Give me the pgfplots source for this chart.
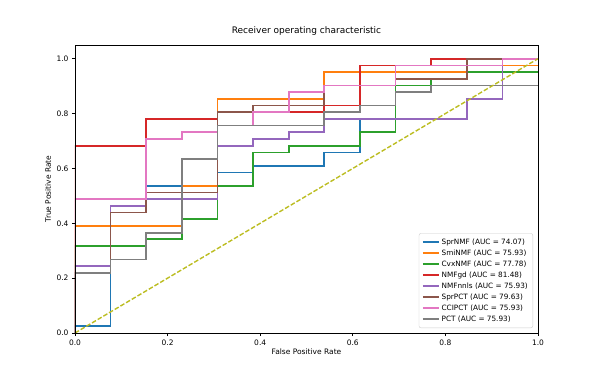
\documentclass[border=0pt]{standalone}
\usepackage{fontspec}
\setmainfont{DejaVu Sans}
\usepackage{pgfplots}
\pgfplotsset{compat=1.18}
\usepackage{pgfplotstable}

\definecolor{tabblue}{HTML}{1F77B4}
\definecolor{taborange}{HTML}{FF7F0E}
\definecolor{tabgreen}{HTML}{2CA02C}
\definecolor{tabred}{HTML}{D62728}
\definecolor{tabpurple}{HTML}{9467BD}
\definecolor{tabbrown}{HTML}{8C564B}
\definecolor{tabpink}{HTML}{E377C2}
\definecolor{tabgray}{HTML}{7F7F7F}
\definecolor{tabolive}{HTML}{BCBD22}

% step curves: i = false positives (of 13), k = true positives (of 41)
\pgfplotstableread{
i k
0 0
0 1
1 1
1 19
2 19
2 22
4 22
4 24
5 24
5 25
7 25
7 27
8 27
8 32
9 32
9 37
12 37
12 39
13 39
}\sprnmf
\pgfplotstableread{
i k
0 0
0 16
3 16
3 22
4 22
4 35
7 35
7 39
12 39
12 40
13 40
}\sminmf
\pgfplotstableread{
i k
0 0
0 13
2 13
2 14
3 14
3 17
4 17
4 22
5 22
5 27
6 27
6 28
8 28
8 30
9 30
9 37
10 37
10 38
11 38
11 39
13 39
}\cvxnmf
\pgfplotstableread{
i k
0 0
0 28
2 28
2 32
4 32
4 33
7 33
7 34
8 34
8 40
10 40
10 41
13 41
}\nmfgd
\pgfplotstableread{
i k
0 0
0 10
1 10
1 19
2 19
2 20
4 20
4 28
5 28
5 29
6 29
6 30
7 30
7 32
11 32
11 35
12 35
12 41
13 41
}\nmfnnls
\pgfplotstableread{
i k
0 0
0 9
1 9
1 18
2 18
2 21
4 21
4 33
5 33
5 34
7 34
7 37
9 37
9 38
11 38
11 41
13 41
}\sprpct
\pgfplotstableread{
i k
0 0
0 20
2 20
2 29
3 29
3 30
4 30
4 31
5 31
5 33
6 33
6 36
7 36
7 37
9 37
9 40
12 40
12 41
13 41
}\ccipct
\pgfplotstableread{
i k
0 0
0 9
1 9
1 11
2 11
2 15
3 15
3 26
4 26
4 31
7 31
7 33
8 33
8 34
9 34
9 36
10 36
10 37
13 37
}\pct

\begin{document}
\begin{tikzpicture}
\path[use as bounding box] (-75pt,-48pt) rectangle (523pt,333pt);
\begin{axis}[
  at={(0pt,0pt)}, anchor=south west,
  width=463pt, height=288pt, scale only axis,
  xmin=0, xmax=1, ymin=0, ymax=1.05,
  axis on top,
  axis line style={black, line width=0.7pt},
  xtick={0,0.2,0.4,0.6,0.8,1.0}, ytick={0,0.2,0.4,0.6,0.8,1.0},
  xtick pos=bottom, ytick pos=left, tick align=outside,
  major tick length=3pt, tick style={black, line width=0.7pt},
  /pgf/number format/.cd, fixed, fixed zerofill, precision=1, assume math mode=true, /pgfplots/.cd,
  ticklabel style={font=\fontsize{7.5}{9}\selectfont},
  title={Receiver operating characteristic},
  title style={font=\fontsize{9}{11}\selectfont, at={(axis description cs:0.5,1)}, anchor=center, yshift=8pt},
  xlabel={False Positive Rate},
  xlabel style={font=\fontsize{7.5}{9}\selectfont, at={(axis description cs:0.5,0)}, anchor=center, yshift=-19pt},
  ylabel={True Positive Rate},
  ylabel style={font=\fontsize{7.5}{9}\selectfont, at={(axis description cs:-0.0583,0.5)}, anchor=center},
  legend cell align=left,
  legend style={at={(axis description cs:1,0)}, anchor=south east, xshift=-5pt, yshift=5pt,
    font=\fontsize{7.3}{8.5}\selectfont, draw={rgb,255:red,204;green,204;blue,204},
    rounded corners=2pt, fill=white, row sep=0pt, inner xsep=3pt, inner ysep=3pt},
  legend image code/.code={\draw[#1] (0pt,0pt) -- (16pt,0pt);},
  every axis plot/.append style={line width=1.7pt},
]
\addplot[tabblue] table[x expr=\thisrow{i}/13, y expr=\thisrow{k}/41] {\sprnmf};
\addlegendentry{SprNMF (AUC = 74.07)}
\addplot[taborange] table[x expr=\thisrow{i}/13, y expr=\thisrow{k}/41] {\sminmf};
\addlegendentry{SmiNMF (AUC = 75.93)}
\addplot[tabgreen] table[x expr=\thisrow{i}/13, y expr=\thisrow{k}/41] {\cvxnmf};
\addlegendentry{CvxNMF (AUC = 77.78)}
\addplot[tabred] table[x expr=\thisrow{i}/13, y expr=\thisrow{k}/41] {\nmfgd};
\addlegendentry{NMFgd (AUC = 81.48)}
\addplot[tabpurple] table[x expr=\thisrow{i}/13, y expr=\thisrow{k}/41] {\nmfnnls};
\addlegendentry{NMFnnls (AUC = 75.93)}
\addplot[tabbrown] table[x expr=\thisrow{i}/13, y expr=\thisrow{k}/41] {\sprpct};
\addlegendentry{SprPCT (AUC = 79.63)}
\addplot[tabpink] table[x expr=\thisrow{i}/13, y expr=\thisrow{k}/41] {\ccipct};
\addlegendentry{CCIPCT (AUC = 75.93)}
\addplot[tabgray] table[x expr=\thisrow{i}/13, y expr=\thisrow{k}/41] {\pct};
\addlegendentry{PCT (AUC = 75.93)}
\addplot[tabolive, line width=1.4pt, dash pattern=on 4.6pt off 2pt, forget plot] coordinates {(0,0) (1,1)};
\end{axis}
\end{tikzpicture}
\end{document}
